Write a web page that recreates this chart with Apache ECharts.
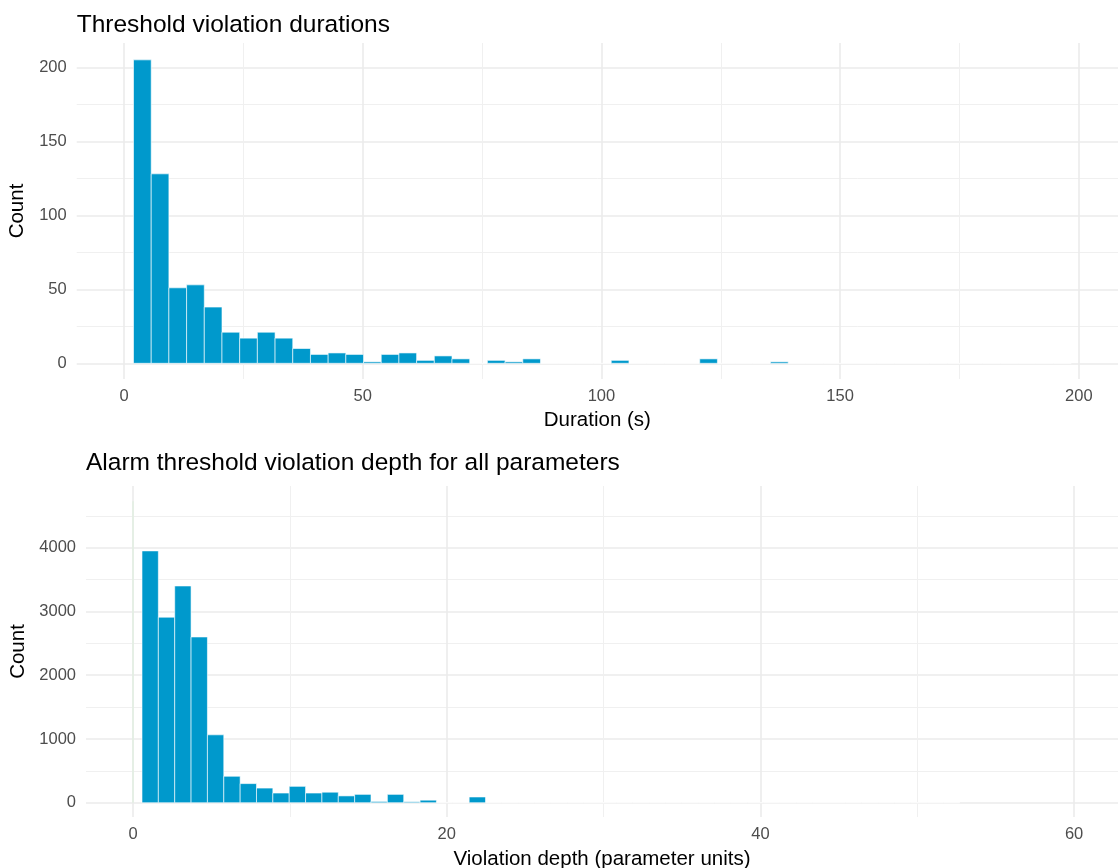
<!DOCTYPE html>
<html><head><meta charset="utf-8">
<script src="https://cdn.jsdelivr.net/npm/echarts@6/dist/echarts.min.js"></script>
<style>html,body{margin:0;padding:0;background:#fff}#c{width:1118px;height:868px}</style>
</head><body><div id="c"></div>
<script>
// ---------- DATA ----------
const durationTitle = 'Threshold violation durations';
const durationXTitle = 'Duration (s)';
const durationBinStart = 2.0;
const durationBinWidth = 3.706;
const durationCounts = [205, 128, 51, 53, 38, 21, 17, 21, 17, 10,
  6, 7, 6, 1, 6, 7, 2, 5, 3, 0,
  2, 1, 3, 0, 0, 0, 0, 2, 0, 0,
  0, 0, 3, 0, 0, 0, 1, 0, 0, 0,
  0, 0, 0, 0, 0, 0, 0, 0, 0, 0,
  0, 0, 0];
const durationXTicks = [0, 50, 100, 150, 200];
const durationXMinor = [25, 75, 125, 175];
const durationYTicks = [0, 50, 100, 150, 200];
const durationYMinor = [25, 75, 125, 175];

const depthTitle = 'Alarm threshold violation depth for all parameters';
const depthXTitle = 'Violation depth (parameter units)';
const depthBinStart = 0.57;
const depthBinWidth = 1.043;
const depthCounts = [3950, 2910, 3400, 2600, 1065, 415, 300, 230, 152, 257,
  152, 165, 107, 131, 20, 131, 15, 40, 0, 0,
  90, 0, 0, 0, 0, 0, 0, 0, 0, 0,
  0, 0, 0, 0, 0, 0, 0, 0, 0, 0,
  0, 0, 0, 0, 0, 0, 0, 0, 0, 0];
// faint thin spike at depth 0 (pale green sliver in the reference)
const depthSpike = [[-0.05, 0.05, 4730]];
const depthXTicks = [0, 20, 40, 60];
const depthXMinor = [10, 30, 50];
const depthYTicks = [0, 1000, 2000, 3000, 4000];
const depthYMinor = [500, 1500, 2500, 3500, 4500];
const yTitle = 'Count';

// ---------- STYLE ----------
const FONT = '"Liberation Sans", Arial, Helvetica, sans-serif';
const BAR = '#0099CC';
const SPIKE = '#E2EFE2';
const GRID_MAJOR = '#EBEBEB';
const GRID_MINOR = '#F0F0F0';

function bins(start, width, counts) {
  return counts.map((c, i) => [start + i * width, start + (i + 1) * width, c]);
}

function makeRender(fill, stroke) {
  return function (params, api) {
    const p0 = api.coord([api.value(0), 0]);
    const p1 = api.coord([api.value(1), api.value(2)]);
    return {
      type: 'rect',
      shape: { x: p0[0], y: p1[1], width: p1[0] - p0[0], height: p0[1] - p1[1] },
      style: stroke ? { fill, stroke, lineWidth: 0.6 } : { fill }
    };
  };
}

function majorAxis(gridIndex, min, max, ticks, labelMargin, name, nameGap) {
  return {
    type: 'value', gridIndex, min, max,
    axisLine: { show: false },
    axisTick: { show: false, customValues: ticks },
    axisLabel: { customValues: ticks, color: '#4D4D4D', fontSize: 16.5, fontFamily: FONT, margin: labelMargin,
      formatter: v => String(v) },
    splitLine: { show: true, lineStyle: { color: GRID_MAJOR, width: 1.6 } },
    name, nameLocation: 'middle', nameGap,
    nameTextStyle: { color: '#000', fontSize: 20.5, fontFamily: FONT }
  };
}
function minorAxis(gridIndex, min, max, ticks) {
  return {
    type: 'value', gridIndex, min, max,
    axisLine: { show: false },
    axisTick: { show: false, customValues: ticks },
    axisLabel: { show: false },
    splitLine: { show: true, lineStyle: { color: GRID_MINOR, width: 1 } }
  };
}

const topX = [-9.9, 208.2], topY = [-10.6, 216.4];
const botX = [-3.0, 62.8], botY = [-224, 4968];

const option = {
  animation: false,
  backgroundColor: '#fff',
  grid: [
    { left: 76.7, right: 0, top: 43, height: 336, containLabel: false, outerBoundsMode: 'none' },
    { left: 86, right: 0, top: 486, height: 331, containLabel: false, outerBoundsMode: 'none' }
  ],
  xAxis: [
    majorAxis(0, topX[0], topX[1], durationXTicks, 9, durationXTitle, 31),
    minorAxis(0, topX[0], topX[1], durationXMinor),
    majorAxis(1, botX[0], botX[1], depthXTicks, 9, depthXTitle, 32),
    minorAxis(1, botX[0], botX[1], depthXMinor)
  ],
  yAxis: [
    majorAxis(0, topY[0], topY[1], durationYTicks, 10, yTitle, 40),
    minorAxis(0, topY[0], topY[1], durationYMinor),
    majorAxis(1, botY[0], botY[1], depthYTicks, 10, yTitle, 49),
    minorAxis(1, botY[0], botY[1], depthYMinor)
  ],
  graphic: [
    { type: 'text', left: 76.7, top: 13, style: { text: durationTitle, fontSize: 24.5, fontFamily: FONT, fill: '#000' } },
    { type: 'text', left: 86, top: 451, style: { text: depthTitle, fontSize: 24.5, fontFamily: FONT, fill: '#000' } }
  ],
  series: [
    { type: 'custom', xAxisIndex: 0, yAxisIndex: 0, clip: true, renderItem: makeRender(BAR, '#ffffff'),
      encode: { x: [0, 1], y: 2 }, data: bins(durationBinStart, durationBinWidth, durationCounts) },
    { type: 'custom', xAxisIndex: 2, yAxisIndex: 2, clip: true, renderItem: makeRender(SPIKE, null),
      encode: { x: [0, 1], y: 2 }, data: depthSpike },
    { type: 'custom', xAxisIndex: 2, yAxisIndex: 2, clip: true, renderItem: makeRender(BAR, '#ffffff'),
      encode: { x: [0, 1], y: 2 }, data: bins(depthBinStart, depthBinWidth, depthCounts) }
  ]
};
const chart = echarts.init(document.getElementById('c'), null, { renderer: 'canvas' });
chart.setOption(option);
</script>
</body></html>
